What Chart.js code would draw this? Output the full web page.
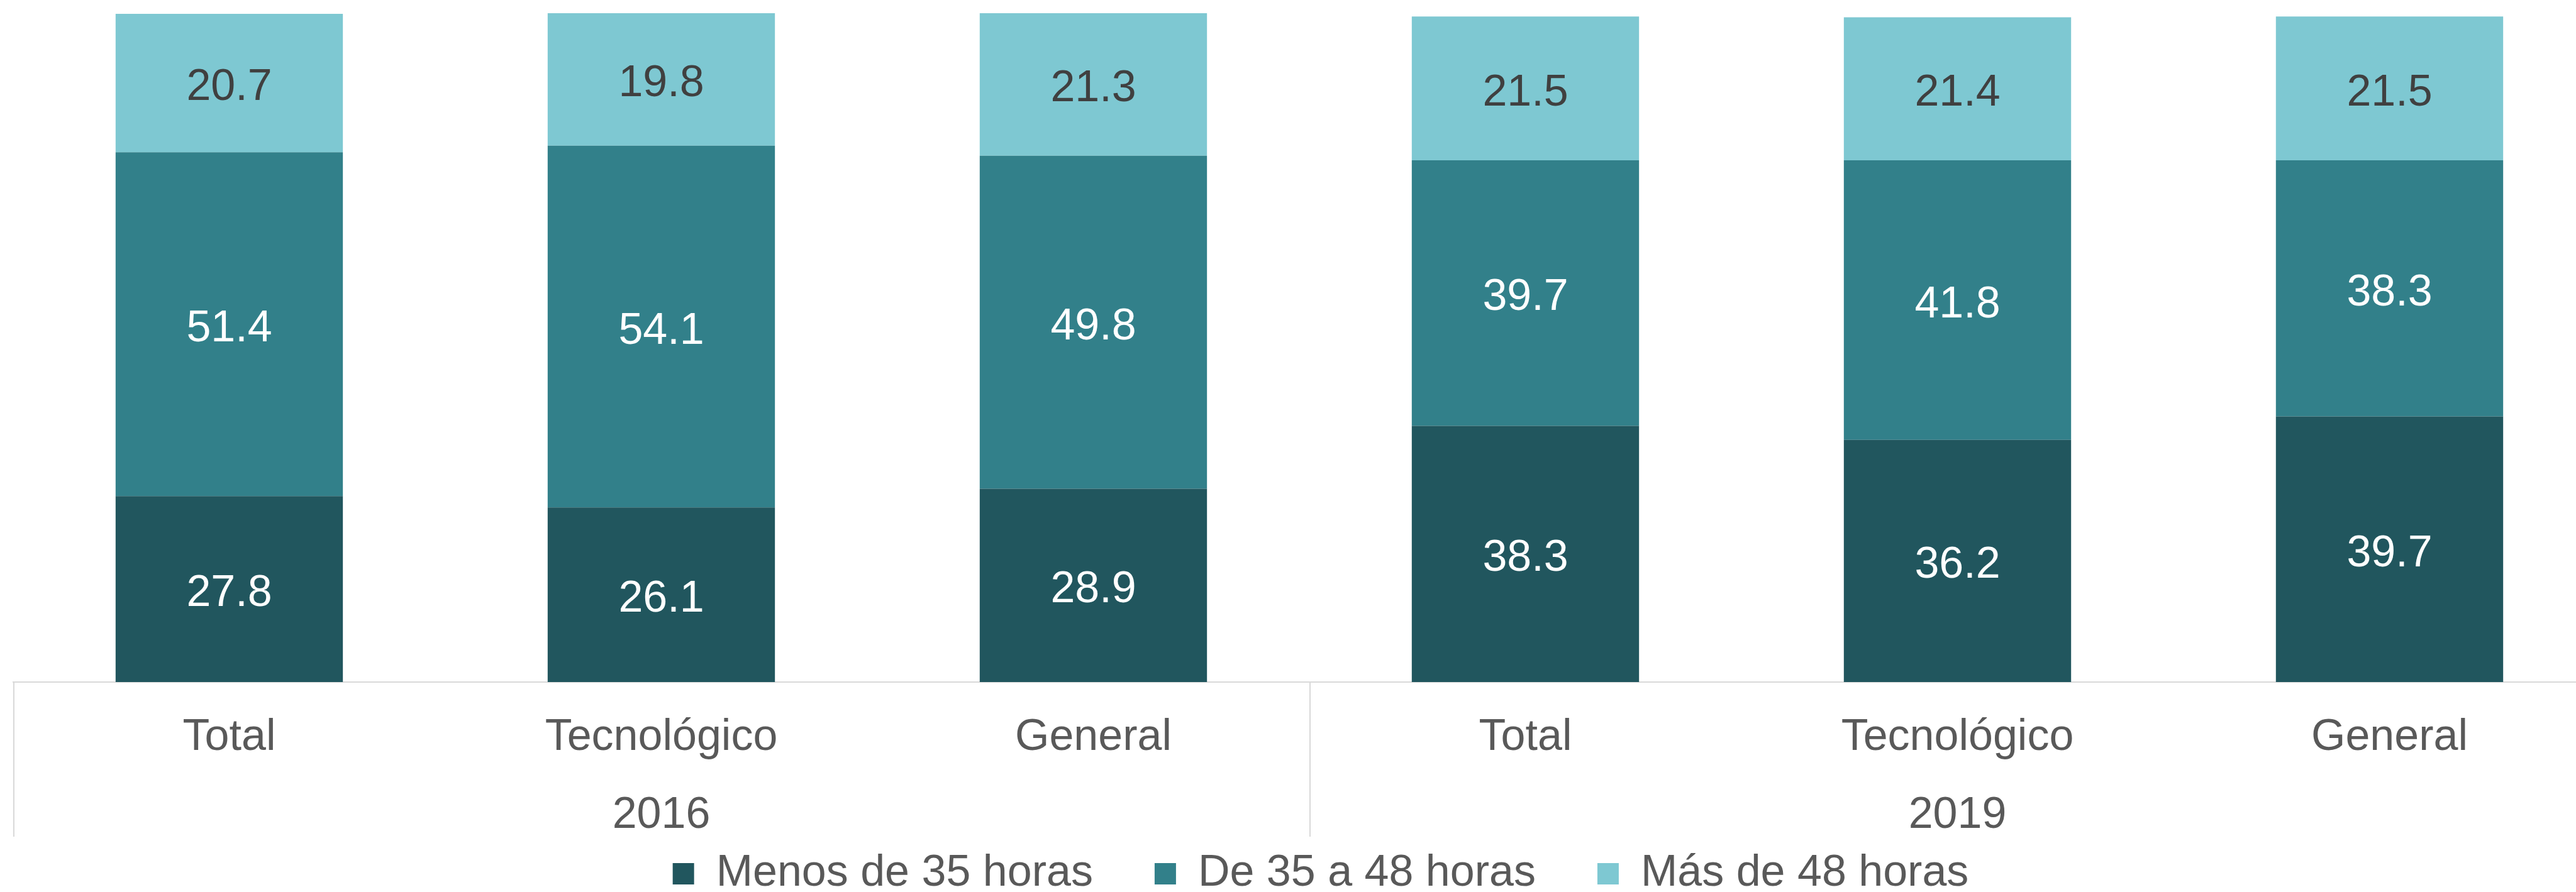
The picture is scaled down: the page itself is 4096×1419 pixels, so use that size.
<!DOCTYPE html>
<html>
<head>
<meta charset="utf-8">
<script src="https://cdn.jsdelivr.net/npm/chart.js@4.4.1/dist/chart.umd.min.js"></script>
<style>
  html, body { margin: 0; padding: 0; overflow: hidden; background: #fff; }
  #wrap { width: 4096px; height: 1419px; overflow: hidden; }
  canvas { display: block; }
</style>
</head>
<body>
<div id="wrap"><canvas id="chart" width="4163" height="1435"></canvas></div>
<script>
const categories = ['Total', 'Tecnológico', 'General', 'Total', 'Tecnológico', 'General'];
const years = ['2016', '2019'];
const seriesNames = ['Menos de 35 horas', 'De 35 a 48 horas', 'Más de 48 horas'];
const menos35 = [27.8, 26.1, 28.9, 38.3, 36.2, 39.7];
const de35a48 = [51.4, 54.1, 49.8, 39.7, 41.8, 38.3];
const mas48 = [20.7, 19.8, 21.3, 21.5, 21.4, 21.5];

const FONT = "'Liberation Sans', Arial, sans-serif";
const FS = 70;
const TEXT = '#595959';
const LINE = '#d9d9d9';

Chart.defaults.font.family = FONT;
Chart.defaults.font.size = FS;
Chart.defaults.color = TEXT;

// value labels in the middle of each segment
const segmentLabels = {
  id: 'segmentLabels',
  afterDatasetsDraw(chart) {
    const ctx = chart.ctx;
    ctx.save();
    ctx.font = `${FS}px ${FONT}`;
    ctx.textAlign = 'center';
    ctx.textBaseline = 'alphabetic';
    chart.data.datasets.forEach((ds, i) => {
      ctx.fillStyle = i === 2 ? '#404040' : '#ffffff';
      chart.getDatasetMeta(i).data.forEach((bar, j) => {
        const { x, y, base } = bar.getProps(['x', 'y', 'base'], true);
        // baseline so the digits sit on the segment centre
        ctx.fillText(ds.data[j].toFixed(1), x, (y + base) / 2 + FS * 0.358 + 2);
      });
    });
    ctx.restore();
  }
};

// second row of the category axis: years + separators
const yearAxis = {
  id: 'yearAxis',
  afterLayout(chart) {
    // nudge legend a bit to the right, like the original
    chart.legend.left += 18;
    chart.legend.right += 18;
  },
  afterDraw(chart) {
    const { ctx, chartArea } = chart;
    const xs = chart.scales.x;
    const per = categories.length / years.length;
    const bottom = chartArea.bottom + 246;
    ctx.save();
    ctx.strokeStyle = LINE;
    ctx.lineWidth = 2;
    for (let g = 0; g <= years.length; g++) {
      const px = Math.round(xs.getPixelForValue(g * per - 0.5)) + 1;
      ctx.beginPath();
      ctx.moveTo(px, chartArea.bottom);
      ctx.lineTo(px, bottom);
      ctx.stroke();
    }
    ctx.font = `${FS}px ${FONT}`;
    ctx.fillStyle = TEXT;
    ctx.textAlign = 'center';
    ctx.textBaseline = 'alphabetic';
    years.forEach((yr, g) => {
      ctx.fillText(yr, xs.getPixelForValue(g * per + (per - 1) / 2), chartArea.bottom + 232);
    });
    ctx.restore();
  }
};

new Chart(document.getElementById('chart'), {
  type: 'bar',
  data: {
    labels: categories,
    datasets: [
      { label: seriesNames[0], data: menos35, backgroundColor: '#21565e' },
      { label: seriesNames[1], data: de35a48, backgroundColor: '#32808a' },
      { label: seriesNames[2], data: mas48, backgroundColor: '#7ec8d2' }
    ]
  },
  options: {
    responsive: false,
    devicePixelRatio: 1,
    animation: false,
    events: [],
    layout: { padding: { top: 21, left: 21, right: 20, bottom: 0 } },
    datasets: { bar: { barPercentage: 0.526, categoryPercentage: 1, borderWidth: 0 } },
    scales: {
      x: {
        stacked: true,
        grid: { display: false, drawTicks: false },
        border: { display: true, color: LINE, width: 2 },
        ticks: { color: TEXT, padding: 47, maxRotation: 0, autoSkip: false, font: { size: FS } },
        afterFit(scale) { scale.height = 172; }
      },
      y: { stacked: true, min: 0, max: 100, display: false }
    },
    plugins: {
      legend: {
        position: 'bottom',
        labels: { boxWidth: 34, boxHeight: 34, padding: 98, color: TEXT, font: { size: FS } }
      },
      tooltip: { enabled: false }
    }
  },
  plugins: [segmentLabels, yearAxis]
});
</script>
</body>
</html>
